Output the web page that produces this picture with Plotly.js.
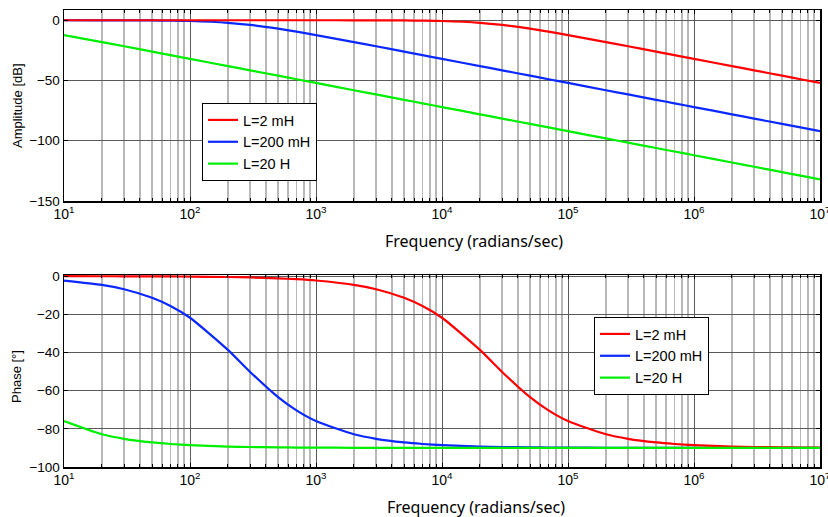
<!DOCTYPE html>
<html>
<head>
<meta charset="utf-8">
<script src="https://cdn.plot.ly/plotly-3.0.1.min.js"></script>
<style>
  html, body { margin: 0; padding: 0; background: #fff; }
  #chart { width: 828px; height: 517px; }
</style>
</head>
<body>
<div id="chart"></div>
<script>
// Bode response of three series-RL low-pass circuits
const freq = [10, 20, 30, 50, 70,
              100, 200, 300, 500, 700,
              1e3, 2e3, 3e3, 5e3, 7e3,
              1e4, 2e4, 3e4, 5e4, 7e4,
              1e5, 2e5, 3e5, 5e5, 7e5,
              1e6, 2e6, 3e6, 5e6, 7e6,
              1e7];

const seriesNames = ["L=2 mH", "L=200 mH", "L=20 H"];

// amplitude [dB]
const ampL2mH = [0, 0, 0, 0, 0,
                 0, 0, 0, 0, 0,
                 0, -0.03, -0.06, -0.17, -0.33,
                 -0.64, -2.15, -3.87, -6.99, -9.46,
                 -12.3, -18.13, -21.61, -26.03, -28.95,
                 -32.04, -38.06, -41.58, -46.02, -48.94,
                 -52.04];
const ampL200mH = [-0.01, -0.03, -0.06, -0.17, -0.33,
                   -0.64, -2.15, -3.87, -6.99, -9.46,
                   -12.3, -18.13, -21.61, -26.03, -28.95,
                   -32.04, -38.06, -41.58, -46.02, -48.94,
                   -52.04, -58.06, -61.58, -66.02, -68.94,
                   -72.04, -78.06, -81.58, -86.02, -88.94,
                   -92.04];
const ampL20H = [-12.3, -18.13, -21.61, -26.03, -28.95,
                 -32.04, -38.06, -41.58, -46.02, -48.94,
                 -52.04, -58.06, -61.58, -66.02, -68.94,
                 -72.04, -78.06, -81.58, -86.02, -88.94,
                 -92.04, -98.06, -101.58, -106.02, -108.94,
                 -112.04, -118.06, -121.58, -126.02, -128.94,
                 -132.04];

// phase [deg]
const phL2mH = [-0.02, -0.05, -0.07, -0.11, -0.16,
                -0.23, -0.46, -0.69, -1.15, -1.6,
                -2.29, -4.57, -6.84, -11.31, -15.64,
                -21.8, -38.66, -50.19, -63.43, -70.35,
                -75.96, -82.87, -85.24, -87.14, -87.95,
                -88.57, -89.28, -89.52, -89.71, -89.8,
                -89.86];
const phL200mH = [-2.29, -4.57, -6.84, -11.31, -15.64,
                  -21.8, -38.66, -50.19, -63.43, -70.35,
                  -75.96, -82.87, -85.24, -87.14, -87.95,
                  -88.57, -89.28, -89.52, -89.71, -89.8,
                  -89.86, -89.93, -89.95, -89.97, -89.98,
                  -89.99, -89.99, -90, -90, -90,
                  -90];
const phL20H = [-75.96, -82.87, -85.24, -87.14, -87.95,
                -88.57, -89.28, -89.52, -89.71, -89.8,
                -89.86, -89.93, -89.95, -89.97, -89.98,
                -89.99, -90, -90, -90, -90,
                -90, -90, -90, -90, -90,
                -90, -90, -90, -90, -90,
                -90];

const ampTicks = [-150, -100, -50, 0];
const phaseTicks = [-100, -80, -60, -40, -20, 0];
const decadeExps = [1, 2, 3, 4, 5, 6, 7];

const colors = { red: "#ff0000", blue: "#0a28ff", green: "#00ee00" };

const decadeVals = decadeExps.map(e => Math.pow(10, e));
const decadeText = decadeExps.map(e => "10<sup>" + e + "</sup>");
const minorVals = [];
decadeExps.slice(0, -1).forEach(e => {
  for (let m = 2; m <= 9; m++) minorVals.push(m * Math.pow(10, e));
});

const tickFont = { family: "Liberation Sans, Arial, sans-serif", size: 14, color: "#000" };

function xAxis(anchor) {
  return {
    type: "log",
    domain: [64 / 828, 820 / 828],
    anchor: anchor,
    range: [1, 7],
    tickmode: "array",
    tickvals: decadeVals,
    ticktext: decadeText,
    tickfont: tickFont,
    ticklabeloverflow: "allow",
    ticks: "inside",
    ticklen: 4,
    tickcolor: "#000",
    showgrid: true,
    gridcolor: "#5a5a5a",
    gridwidth: 1,
    showline: true,
    linecolor: "#000",
    linewidth: 1.5,
    mirror: "ticks",
    zeroline: false,
    minor: {
      tickmode: "array",
      tickvals: minorVals,
      ticks: "inside",
      ticklen: 3,
      tickcolor: "#000",
      showgrid: true,
      gridcolor: "#b8b8b8",
      gridwidth: 1.5
    }
  };
}

function yAxis(anchor, domain, range, ticks) {
  return {
    domain: domain,
    anchor: anchor,
    range: range,
    tickmode: "array",
    tickvals: ticks,
    tickfont: { family: tickFont.family, size: 13.5, color: "#000" },
    ticks: "inside",
    ticklen: 4,
    tickcolor: "#000",
    showgrid: true,
    gridcolor: "#5a5a5a",
    gridwidth: 1,
    showline: true,
    linecolor: "#000",
    linewidth: 1.5,
    mirror: "ticks",
    zeroline: false
  };
}

function trace(y, name, color, xa, ya, legend, rank) {
  return {
    x: freq, y: y, name: name, type: "scatter", mode: "lines",
    line: { color: color, width: 2.2, shape: "spline", smoothing: 0.6 },
    xaxis: xa, yaxis: ya, legend: legend, legendrank: rank
  };
}

const data = [
  trace(ampL200mH, seriesNames[1], colors.blue, "x", "y", "legend", 2),
  trace(ampL2mH, seriesNames[0], colors.red, "x", "y", "legend", 1),
  trace(ampL20H, seriesNames[2], colors.green, "x", "y", "legend", 3),
  trace(phL200mH, seriesNames[1], colors.blue, "x2", "y2", "legend2", 2),
  trace(phL2mH, seriesNames[0], colors.red, "x2", "y2", "legend2", 1),
  trace(phL20H, seriesNames[2], colors.green, "x2", "y2", "legend2", 3)
];

const legendBase = {
  xanchor: "left", yanchor: "top",
  bgcolor: "#fff", bordercolor: "#000", borderwidth: 1,
  font: { family: "Liberation Sans, Arial, sans-serif", size: 14.5, color: "#000" },
  tracegroupgap: 0
};

const titleFont = { family: "Noto Sans, Open Sans, sans-serif", size: 16, color: "#000" };
const yTitleFont = { family: "Liberation Sans, Arial, sans-serif", size: 13, color: "#000" };

const layout = {
  width: 828, height: 517,
  margin: { l: 0, r: 0, t: 0, b: 0 },
  paper_bgcolor: "#fff",
  plot_bgcolor: "#fff",
  showlegend: true,
  xaxis: xAxis("y"),
  yaxis: yAxis("x", [1 - 201 / 517, 1 - 10 / 517], [-150, 8.5], ampTicks),
  xaxis2: xAxis("y2"),
  yaxis2: yAxis("x2", [1 - 467 / 517, 1 - 275 / 517], [-100, 0.6], phaseTicks),
  legend: Object.assign({}, legendBase, { x: 202 / 828, y: 1 - 103 / 517 }),
  legend2: Object.assign({}, legendBase, { x: 594 / 828, y: 1 - 317 / 517 }),
  annotations: [
    { text: "Frequency (radians/sec)", xref: "paper", yref: "paper",
      x: 474 / 828, y: 1 - 241 / 517, xanchor: "center", yanchor: "middle",
      showarrow: false, font: titleFont },
    { text: "Frequency (radians/sec)", xref: "paper", yref: "paper",
      x: 476 / 828, y: 1 - 507 / 517, xanchor: "center", yanchor: "middle",
      showarrow: false, font: titleFont },
    { text: "Amplitude [dB]", xref: "paper", yref: "paper",
      x: 17 / 828, y: 1 - 106 / 517, xanchor: "center", yanchor: "middle",
      textangle: -90, showarrow: false, font: yTitleFont },
    { text: "Phase [°]", xref: "paper", yref: "paper",
      x: 16 / 828, y: 1 - 377 / 517, xanchor: "center", yanchor: "middle",
      textangle: -90, showarrow: false, font: yTitleFont }
  ]
};

Plotly.newPlot("chart", data, layout, { displayModeBar: false, staticPlot: true });
</script>
</body>
</html>
